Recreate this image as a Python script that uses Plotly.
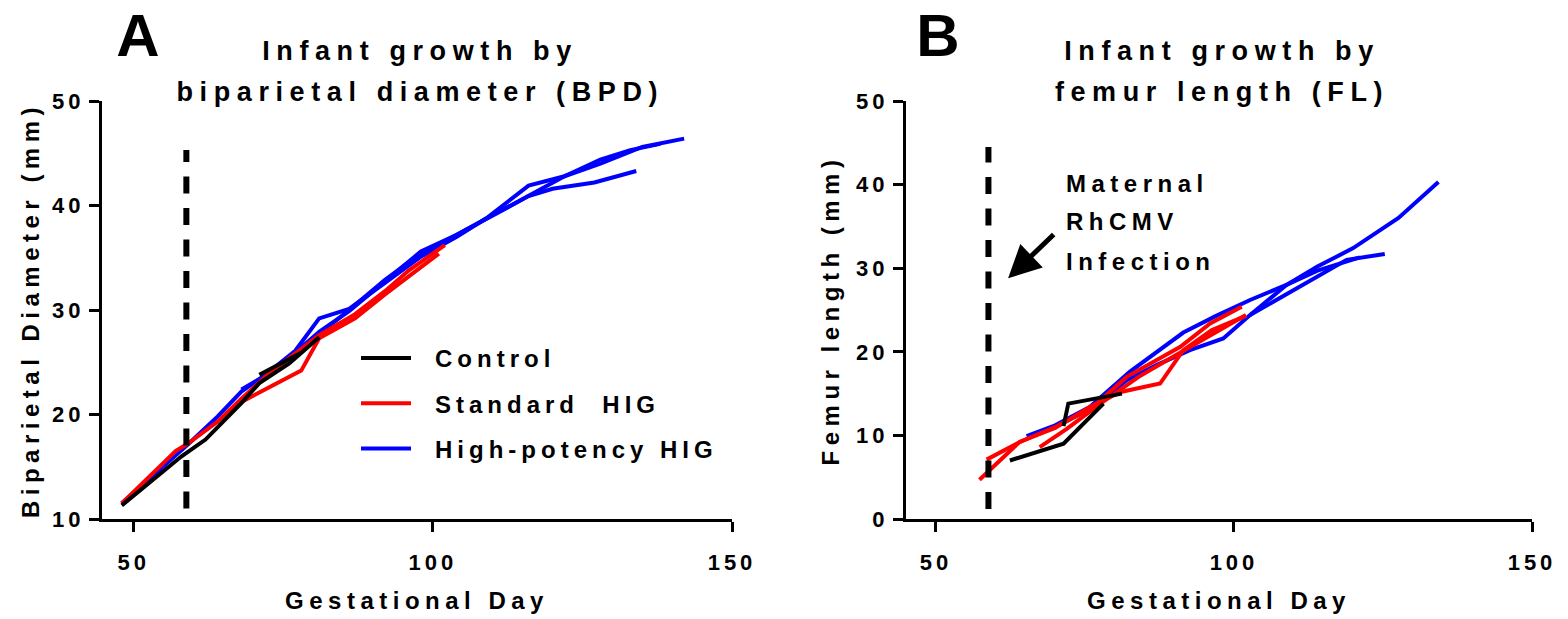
import plotly.graph_objects as go

FONT = "Liberation Sans, Arial, sans-serif"

# ---------------- Panel A: biparietal diameter (mm) by gestational day (one list per animal)
bpd_control_days = [[48, 53, 58, 62, 68, 71, 76, 81], [71, 78]]
bpd_control_mm = [[11.3, 13.6, 16.0, 17.6, 21.1, 23.0, 24.9, 27.4], [23.8, 25.9]]

bpd_standard_days = [[48, 57, 59, 64, 68, 72, 76, 81, 87, 92, 96, 102],
                     [68, 72, 78, 81, 87, 92, 96, 101]]
bpd_standard_mm = [[11.5, 16.5, 17.2, 19.3, 21.5, 23.6, 25.4, 27.6, 29.6, 31.8, 33.8, 36.2],
                   [21.2, 22.4, 24.2, 27.3, 29.2, 31.5, 33.2, 35.4]]

bpd_high_days = [[48, 59, 64, 68, 72, 77, 81, 86, 92, 98, 104, 109, 116, 122, 128, 135, 142],
                 [68, 72, 77, 81, 86, 92, 98, 104, 110, 116, 120, 127, 134],
                 [81, 86, 92, 98, 104, 110, 116, 122, 128, 133, 138]]
bpd_high_mm = [[11.5, 17.1, 19.8, 22.2, 23.8, 26.1, 29.2, 30.1, 32.6, 35.1, 37.0, 38.8, 41.9, 42.8, 44.0, 45.6, 46.4],
               [22.4, 23.7, 25.9, 27.9, 29.9, 32.8, 35.6, 37.2, 39.0, 40.9, 41.6, 42.2, 43.3],
               [27.7, 30.0, 32.9, 35.4, 37.2, 39.1, 40.9, 42.8, 44.4, 45.3, 45.9]]

# ---------------- Panel B: femur length (mm) by gestational day (one list per animal)
fl_control_days = [[62.4, 71.4, 78.1], [71.4, 72.2, 81.2]]
fl_control_mm = [[7.0, 9.0, 13.8], [11.1, 13.8, 15.0]]

fl_standard_days = [[57.3, 64, 70, 76, 82, 91, 96, 101.3],
                    [58.5, 64.3, 70, 76, 81, 87.6, 91.5, 96.3, 102],
                    [67.4, 72, 78, 84, 90, 96, 102]]
fl_standard_mm = [[4.7, 9.2, 11.0, 13.2, 17.0, 20.6, 23.4, 25.4],
                  [7.1, 9.3, 10.9, 13.5, 15.2, 16.2, 20.2, 22.6, 24.3],
                  [8.6, 10.8, 14.0, 17.0, 19.5, 22.0, 24.4]]

fl_high_days = [[65.2, 70, 75.8, 82.5, 91.5, 97, 102.7, 108.8, 114, 120, 127.6, 134.3],
                [65.5, 70, 76, 82, 87, 92.6, 98.2, 102.7, 108.8, 114, 121.1],
                [102.7, 110, 118.9, 125.3]]
fl_high_mm = [[9.9, 11.2, 13.4, 17.6, 22.3, 24.3, 26.2, 28.0, 30.2, 32.4, 36.0, 40.3],
              [9.8, 11.0, 13.2, 16.6, 18.4, 20.2, 21.6, 24.4, 28.0, 29.7, 31.3],
              [24.4, 27.4, 31.0, 31.7]]

series_names = ["Control", "Standard  HIG", "High-potency HIG"]
series_colors = ["#000000", "#FF0000", "#0000FF"]

x_ticks = [50, 100, 150]
bpd_ticks = [10, 20, 30, 40, 50]
fl_ticks = [0, 10, 20, 30, 40, 50]

infection_day = 58.8
bpd_dash_span = [11.0, 45.3]
fl_dash_span = [1.2, 44.5]
arrow_head = (62.1, 28.8)   # (day, mm) in panel B
arrow_tail = (70.0, 34.2)


def join(days_list, vals_list):
    xs, ys = [], []
    for d, v in zip(days_list, vals_list):
        if xs:
            xs.append(None)
            ys.append(None)
        xs.extend(d)
        ys.extend(v)
    return xs, ys


fig = go.Figure()

panelA = [(bpd_control_days, bpd_control_mm), (bpd_standard_days, bpd_standard_mm), (bpd_high_days, bpd_high_mm)]
panelB = [(fl_control_days, fl_control_mm), (fl_standard_days, fl_standard_mm), (fl_high_days, fl_high_mm)]

# draw blue first, then red, then black on top
for idx in [2, 1, 0]:
    xs, ys = join(*panelA[idx])
    fig.add_trace(go.Scatter(x=xs, y=ys, mode="lines", name=series_names[idx],
                             line=dict(color=series_colors[idx], width=4),
                             legendgroup=series_names[idx], legendrank=idx + 1,
                             connectgaps=False, xaxis="x", yaxis="y", showlegend=True))
for idx in [2, 1, 0]:
    xs, ys = join(*panelB[idx])
    fig.add_trace(go.Scatter(x=xs, y=ys, mode="lines", name=series_names[idx],
                             line=dict(color=series_colors[idx], width=4),
                             legendgroup=series_names[idx], legendrank=idx + 1,
                             connectgaps=False, xaxis="x2", yaxis="y2", showlegend=False))

W, H = 1568, 619
dom_y = [1 - 519 / H, 1 - 101 / H]

axis_common = dict(showline=True, linewidth=3, linecolor="black", ticks="outside", ticklen=10,
                   tickwidth=3, tickcolor="black", showgrid=False, zeroline=False, automargin=False,
                   tickfont=dict(family=FONT, size=22, color="black", weight="bold"),
                   title_font=dict(family=FONT, size=24, color="black", weight="bold"))

fig.update_layout(
    width=W, height=H, margin=dict(l=0, r=0, t=0, b=0, pad=0, autoexpand=False),
    paper_bgcolor="white", plot_bgcolor="white",
    font=dict(family=FONT, color="black"),
    xaxis=dict(domain=[102 / W, 732 / W], range=[44.7, 150], tickvals=x_ticks, anchor="y",
               title=dict(text="Gestational Day", standoff=18), ticklabelstandoff=12, **axis_common),
    yaxis=dict(domain=dom_y, range=[10, 50], tickvals=bpd_ticks, anchor="x",
               title=dict(text="Biparietal Diameter (mm)", standoff=14), **axis_common),
    xaxis2=dict(domain=[906 / W, 1532 / W], range=[44.97, 150], tickvals=x_ticks, anchor="y2",
                title=dict(text="Gestational Day", standoff=18), ticklabelstandoff=12, **axis_common),
    yaxis2=dict(domain=dom_y, range=[0, 50], tickvals=fl_ticks, anchor="x2",
                title=dict(text="Femur length (mm)", standoff=18), **axis_common),
    legend=dict(x=356 / W, y=1 - 336 / H, xanchor="left", yanchor="top",
                font=dict(family=FONT, size=24, color="black", weight="bold"),
                bgcolor="rgba(0,0,0,0)", tracegroupgap=11, itemwidth=50),
    showlegend=True,
)

# infection day dashed lines
fig.add_shape(type="line", xref="x", yref="y", x0=infection_day, x1=infection_day,
              y0=bpd_dash_span[0], y1=bpd_dash_span[1],
              line=dict(color="black", width=6, dash="17px,14.5px"))
fig.add_shape(type="line", xref="x2", yref="y2", x0=infection_day, x1=infection_day,
              y0=fl_dash_span[0], y1=fl_dash_span[1],
              line=dict(color="black", width=6, dash="17px,14.5px"))

# arrow in panel B (annotation index 0)
fig.add_annotation(xref="x2", yref="y2", axref="x2", ayref="y2",
                   x=arrow_head[0], y=arrow_head[1], ax=arrow_tail[0], ay=arrow_tail[1],
                   text="", showarrow=True, arrowhead=2, arrowsize=1.3, arrowwidth=5,
                   arrowcolor="black")

bold = lambda s: dict(family=FONT, size=s, color="black", weight="bold")

# panel letters (indices 1, 2)
fig.add_annotation(xref="paper", yref="paper", x=140 / W, y=1 - 36 / H, text="A",
                   showarrow=False, font=bold(60), xanchor="center", yanchor="middle")
fig.add_annotation(xref="paper", yref="paper", x=940 / W, y=1 - 36 / H, text="B",
                   showarrow=False, font=bold(60), xanchor="center", yanchor="middle")

# titles, two lines each (indices 3-6)
for cx, lines in [(420, ["Infant growth by", "biparietal diameter (BPD)"]),
                  (1222, ["Infant growth by", "femur length (FL)"])]:
    for cy, txt in zip([51, 92], lines):
        fig.add_annotation(xref="paper", yref="paper", x=cx / W, y=1 - cy / H, text=txt,
                           showarrow=False, font=bold(27), xanchor="center", yanchor="middle")

# infection label (indices 7-9)
for cy, txt in zip([183, 222, 261], ["Maternal", "RhCMV", "Infection"]):
    fig.add_annotation(xref="paper", yref="paper", x=1064 / W, y=1 - cy / H, text=txt,
                       showarrow=False, font=bold(24), xanchor="left", yanchor="middle", align="left")

css = ("body{margin:0;overflow:hidden}"
       ".xtick text,.x2tick text,.ytick text,.y2tick text{letter-spacing:4px}"
       ".xtitle,.x2title,.ytitle,.y2title{letter-spacing:5.5px}"
       ".legendtext{letter-spacing:5px;transform:translateX(19px)}"
       ".legend .scrollbox{clip-path:none !important}"
       ".annotation-text{letter-spacing:5.5px}"
       ".annotation[data-index='3'] .annotation-text,.annotation[data-index='4'] .annotation-text,"
       ".annotation[data-index='5'] .annotation-text,.annotation[data-index='6'] .annotation-text"
       "{letter-spacing:6.6px}")
post = ("var s=document.createElement('style');s.textContent=" + repr(css) + ";"
        "document.head.appendChild(s);")

fig.write_html("out.html", post_script=post)
